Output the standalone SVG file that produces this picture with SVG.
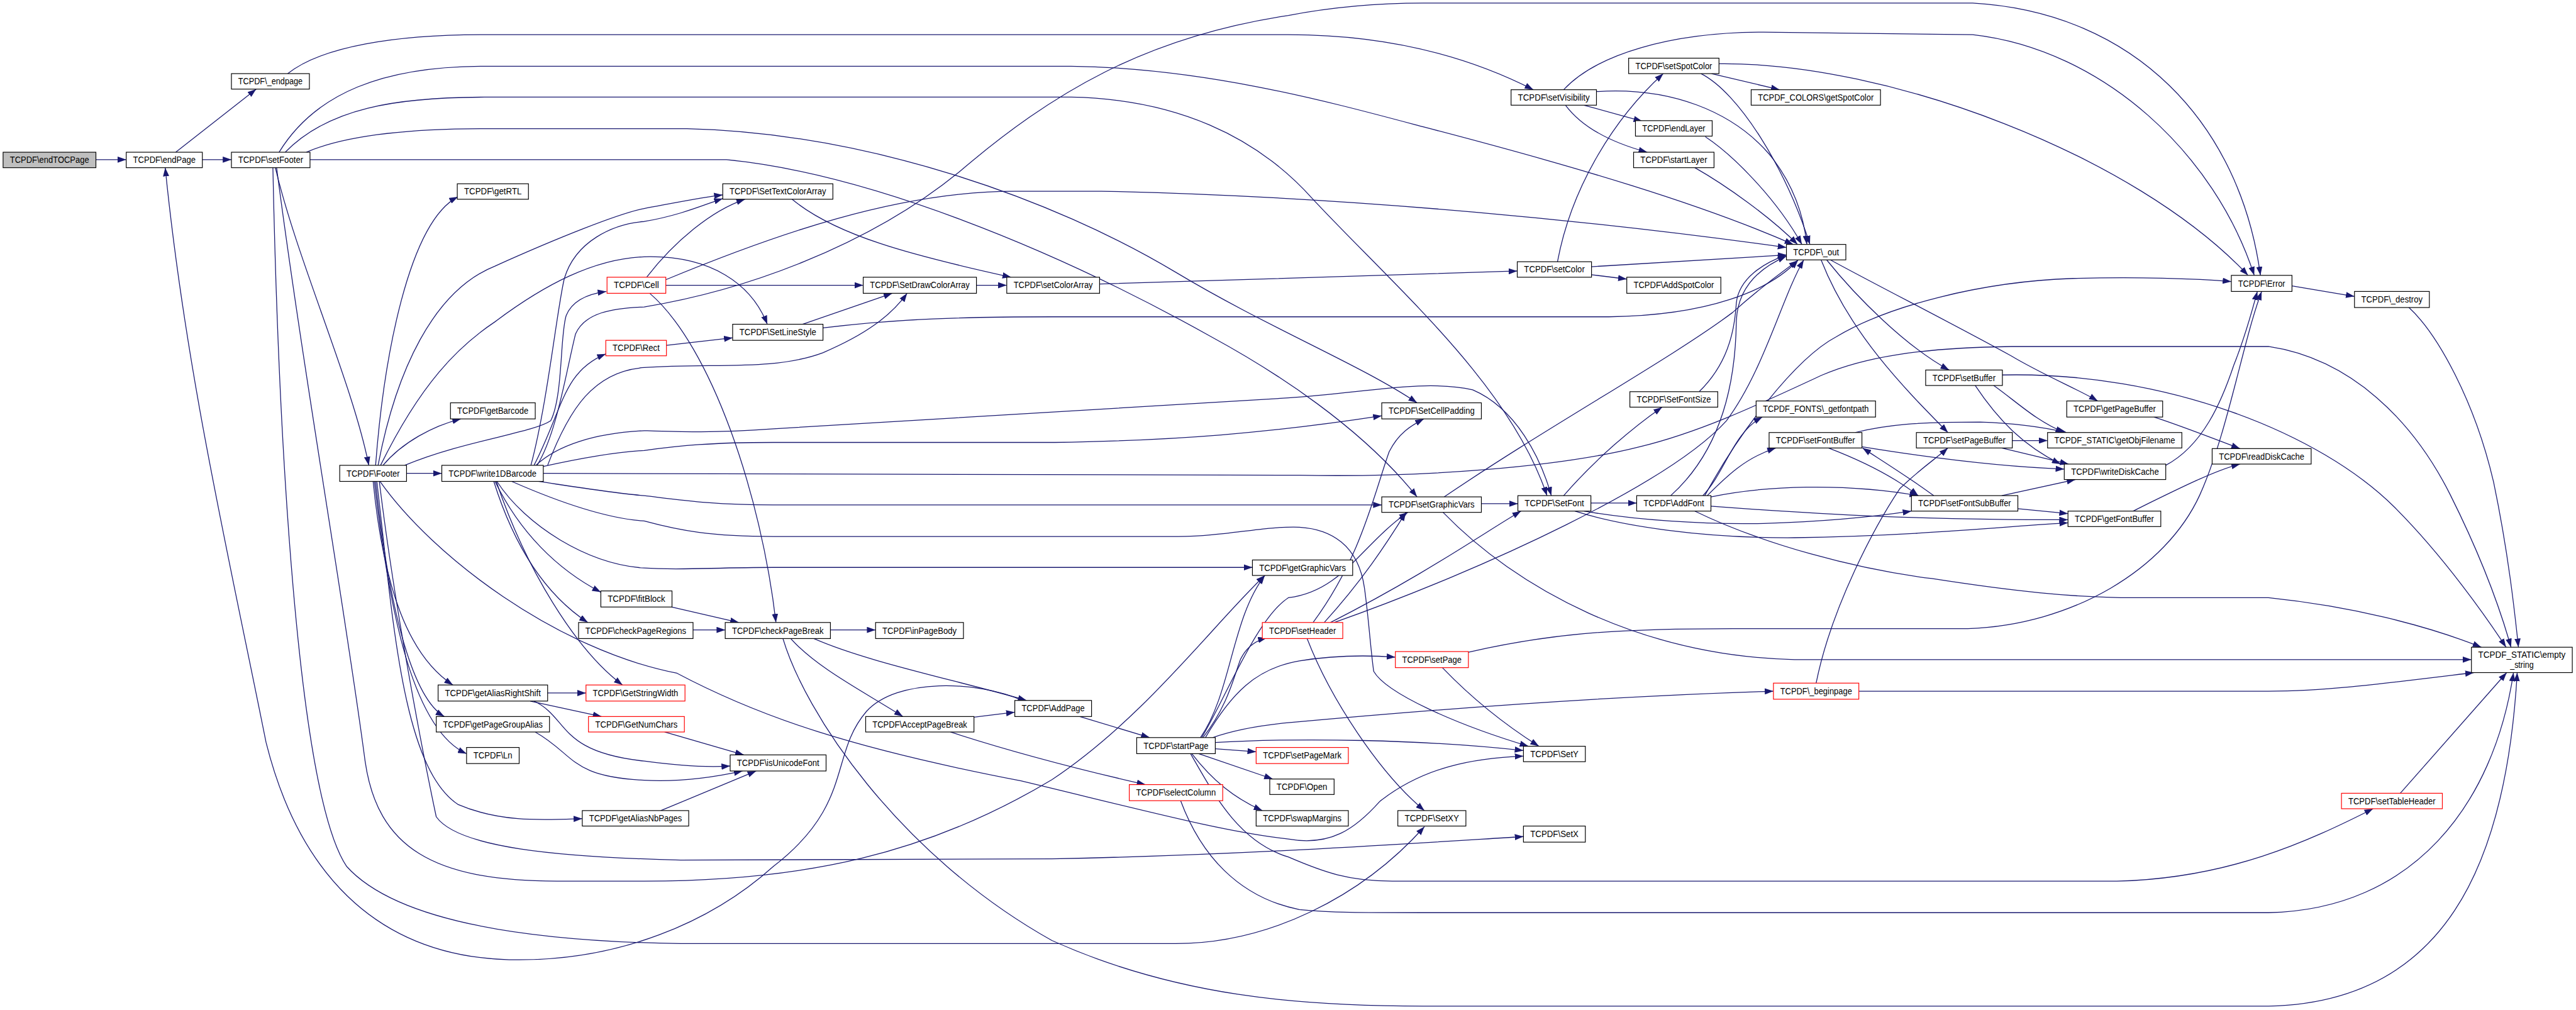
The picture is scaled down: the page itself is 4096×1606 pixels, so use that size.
<svg xmlns="http://www.w3.org/2000/svg" width="4096" height="1606" viewBox="0 0 4096 1606">
<style>
.n rect{fill:#fff;stroke:#000;stroke-width:1.2}
.n.r rect{stroke:#ff0000}
.n.root rect{fill:#bfbfbf}
.n text{font-family:"Liberation Sans",Arial,sans-serif;font-size:14.5px;text-anchor:middle;fill:#000}
.e path{fill:none;stroke:#191970;stroke-width:1.3;marker-end:url(#ah)}
</style>
<defs>
<marker id="ah" markerUnits="userSpaceOnUse" markerWidth="14" markerHeight="10" refX="14" refY="5" orient="auto" viewBox="0 0 14 10"><path d="M0,0L14,5L0,10z" fill="#191970"/></marker>
</defs>
<rect width="4096" height="1606" fill="#fff"/>
<g transform="scale(0.983906)">
<g id="edges" class="e">
<path d="M155,258 L204,258"/>
<path d="M284,246 L414,144"/>
<path d="M327,258 L374,258"/>
<path d="M465,119 C520,75 640,56 780,56 L2082,56 C2250,56 2380,95 2478,145"/>
<path d="M451,246 C510,150 620,107 783,107 L1731,107 C1950,110 2150,165 2300,205 C2550,270 2750,330 2898,395"/>
<path d="M461,246 C530,175 640,157 783,157 L1731,157 C1900,160 2030,220 2120,320 C2250,460 2440,620 2500,801"/>
<path d="M495,246 C560,218 660,208 783,208 L1110,208 C1400,215 1700,320 1900,440 C2050,530 2200,590 2290,651"/>
<path d="M501,258 L1174,258 C1400,280 1700,400 1957,544 C2060,600 2200,690 2290,803"/>
<path d="M445,271 C480,420 570,620 596,752"/>
<path d="M441,271 C450,700 480,1280 560,1400 C650,1500 900,1522 1100,1525 L1900,1525 C2050,1525 2200,1450 2302,1336"/>
<path d="M447,271 C490,600 560,1000 590,1230 C610,1370 700,1424 900,1424 L1041,1424 C1300,1424 1500,1380 1700,1260 C1850,1160 1960,1010 2044,930"/>
<path d="M1652,1132 C1580,1100 1450,1095 1400,1150 C1340,1220 1380,1300 1250,1400 C1150,1490 1000,1555 823,1551 C600,1545 480,1400 430,1200 C370,900 300,600 267,271"/>
<path d="M607,752 C620,580 660,360 740,318"/>
<path d="M611,752 C640,600 700,470 800,430 C900,385 1000,345 1041,337 C1100,326 1140,318 1168,315"/>
<path d="M615,752 C680,620 740,560 800,520 C880,460 960,418 1041,415 C1150,412 1215,460 1240,524"/>
<path d="M619,752 C650,715 700,688 745,677"/>
<path d="M654,752 C750,712 860,700 890,680 C910,640 905,540 915,510 C925,485 950,475 980,471"/>
<path d="M657,765 L714,765"/>
<path d="M605,778 C630,1000 670,1180 754,1218"/>
<path d="M603,778 C620,950 660,1060 732,1107"/>
<path d="M607,778 C630,1000 670,1130 718,1158"/>
<path d="M609,778 C635,1000 650,1240 740,1300 C810,1330 880,1325 941,1323"/>
<path d="M613,778 C640,1000 690,1250 705,1320 C740,1370 900,1385 1100,1390 L1700,1388 C2000,1382 2250,1365 2462,1352"/>
<path d="M614,778 C700,900 900,1050 1094,1088 C1230,1160 1380,1210 1650,1262 C1850,1310 1980,1345 2082,1356 C2150,1368 2190,1340 2230,1295 C2300,1240 2380,1225 2462,1222"/>
<path d="M868,752 C900,700 915,600 930,540 C945,505 990,498 1041,496 C1200,470 1400,400 1550,278 C1700,150 1850,60 2082,25 C2150,12 2220,5 2300,5 L3188,5 C3450,20 3620,200 3653,445"/>
<path d="M858,752 C885,650 900,500 912,450 C930,390 990,362 1041,358 C1100,348 1140,330 1168,321"/>
<path d="M863,752 C910,660 910,600 979,572"/>
<path d="M885,752 C920,660 960,600 1041,594 C1150,586 1250,600 1330,570 C1400,540 1440,510 1466,474"/>
<path d="M866,752 C900,720 960,700 1041,696 C1100,698 1150,700 1250,693 L2082,643 C2200,636 2300,612 2380,630 C2450,660 2490,740 2507,801"/>
<path d="M877,754 C950,738 1000,730 1041,728 C1100,720 1150,715 1250,715 L1705,715 C1900,712 2050,700 2233,672"/>
<path d="M878,765 L2100,768 C2300,772 2520,755 2650,722 C2750,698 2850,650 2945,606 C3010,578 3100,562 3250,560 L3666,560 C3800,580 3900,680 3960,800 C4020,920 4045,1000 4058,1046"/>
<path d="M870,778 C950,790 1000,798 1041,801 C1100,808 1150,816 1250,816 L2233,816"/>
<path d="M827,778 C900,810 980,838 1041,842 C1100,858 1150,867 1250,867 L1904,867 C1980,867 2040,850 2100,852 C2150,855 2195,880 2205,950 C2212,1000 2215,1050 2220,1085 C2240,1120 2350,1170 2470,1206"/>
<path d="M803,778 C850,850 950,912 1041,918 C1100,922 1150,917 1250,917 L2024,917"/>
<path d="M800,778 C840,860 900,920 971,957"/>
<path d="M798,778 C830,880 880,960 950,1006"/>
<path d="M802,778 C850,920 930,1050 1006,1107"/>
<path d="M1045,448 C1090,390 1150,340 1204,322"/>
<path d="M1076,461 L1395,461"/>
<path d="M1076,452 C1250,380 1450,309 1640,309 L1780,309 C2200,318 2600,360 2887,400"/>
<path d="M1050,474 C1150,560 1230,800 1254,1006"/>
<path d="M1077,558 L1184,546"/>
<path d="M1297,524 L1442,474"/>
<path d="M1330,530 C1450,515 1560,512 1700,512 L2600,512 C2760,510 2860,470 2906,420"/>
<path d="M1280,322 C1350,380 1470,412 1634,448"/>
<path d="M1578,461 L1627,461"/>
<path d="M1777,459 C2000,452 2250,445 2452,438"/>
<path d="M2572,431 L2887,412"/>
<path d="M2572,444 L2629,451"/>
<path d="M2517,423 C2540,300 2610,190 2688,119"/>
<path d="M2766,119 L2876,145"/>
<path d="M2749,119 C2810,150 2885,270 2925,395"/>
<path d="M2778,103 C3050,100 3450,250 3633,445"/>
<path d="M2527,145 C2580,88 2700,52 2850,52 L3188,56 C3400,80 3580,250 3643,445"/>
<path d="M2580,148 C2700,140 2800,180 2860,250 C2900,300 2915,350 2920,395"/>
<path d="M2560,170 L2654,196"/>
<path d="M2530,170 C2560,210 2610,232 2662,246"/>
<path d="M2756,221 C2800,250 2870,320 2912,395"/>
<path d="M2739,271 C2790,300 2860,350 2905,395"/>
<path d="M2952,420 C3000,480 3080,560 3150,598"/>
<path d="M2943,420 C2990,540 3080,630 3148,699"/>
<path d="M2958,420 C3050,470 3150,520 3250,575 C3300,605 3360,630 3390,648"/>
<path d="M2700,801 C2790,720 2805,600 2806,520 C2808,460 2850,430 2887,414"/>
<path d="M2746,633 C2790,590 2803,540 2806,490 C2810,450 2850,425 2887,412"/>
<path d="M2755,801 C2810,700 2900,580 2968,544 C3050,495 3200,455 3350,450 C3450,447 3550,450 3606,455"/>
<path d="M2571,813 L2645,813"/>
<path d="M2527,801 C2580,740 2640,690 2686,658"/>
<path d="M2560,826 C2640,840 2750,848 2850,846 C2950,843 3030,835 3089,826"/>
<path d="M2545,826 C2620,850 2750,870 2900,869 C3100,866 3250,850 3342,845"/>
<path d="M2752,801 C2790,760 2800,700 2848,674"/>
<path d="M2759,801 C2790,770 2820,740 2870,724"/>
<path d="M2765,803 C2850,785 2980,780 3100,801"/>
<path d="M2765,818 C2950,832 3100,840 3342,840"/>
<path d="M2739,826 C2850,880 3000,920 3122,935 C3250,955 3350,966 3450,966 L3666,966 C3800,980 3920,1010 4010,1046"/>
<path d="M2998,699 C3050,686 3100,682 3200,682 C3260,684 3310,692 3340,699"/>
<path d="M3009,722 C3150,745 3250,755 3336,758"/>
<path d="M3125,801 C3090,775 3050,750 3010,724"/>
<path d="M2955,724 C3010,745 3060,770 3100,801"/>
<path d="M3261,822 L3342,830"/>
<path d="M3235,801 L3354,775"/>
<path d="M3236,606 C3500,600 3750,700 3870,820 C3950,900 4020,1000 4050,1046"/>
<path d="M3222,623 C3260,650 3290,680 3336,699"/>
<path d="M3192,623 C3230,680 3270,720 3330,750"/>
<path d="M3252,712 L3309,712"/>
<path d="M3235,724 L3343,750"/>
<path d="M3481,674 C3530,690 3580,710 3620,725"/>
<path d="M3447,826 C3520,790 3580,760 3620,750"/>
<path d="M3500,752 C3560,720 3590,650 3610,590 C3630,540 3640,500 3648,471"/>
<path d="M2373,1054 C2500,1025 2600,1016 2800,1016 L3180,1016 C3350,1010 3500,920 3555,800 C3600,700 3625,550 3655,471"/>
<path d="M2331,1079 C2380,1130 2430,1170 2487,1206"/>
<path d="M2935,1104 C2960,980 3030,850 3070,790 C3100,760 3130,740 3148,724"/>
<path d="M3004,1117 L3666,1117 C3760,1117 3850,1105 3998,1087"/>
<path d="M3879,1282 L4051,1087"/>
<path d="M1924,1218 C1960,1280 2000,1360 2082,1385 C2140,1410 2180,1424 2250,1424 L3421,1424 C3600,1420 3730,1360 3835,1307"/>
<path d="M1908,1294 C1940,1380 2000,1450 2100,1470 C2150,1475 2200,1475 2300,1475 L3666,1475 C3900,1470 4030,1300 4062,1087"/>
<path d="M1265,1031 C1300,1150 1450,1380 1700,1520 C1900,1610 2100,1626 2300,1626 L3666,1626 C3950,1620 4050,1400 4068,1087"/>
<path d="M1342,1018 L1415,1018"/>
<path d="M1313,1031 C1400,1070 1550,1100 1659,1132"/>
<path d="M1277,1031 C1320,1080 1400,1120 1459,1158"/>
<path d="M1120,1018 L1172,1018"/>
<path d="M1085,981 L1194,1006"/>
<path d="M1574,1159 L1640,1151"/>
<path d="M1536,1183 C1650,1220 1750,1245 1851,1268"/>
<path d="M1745,1158 L1858,1192"/>
<path d="M1944,1192 C1985,1140 1995,1090 2005,1065 C2015,1045 2030,1035 2047,1031"/>
<path d="M1940,1192 C1990,1120 1990,1000 2044,930"/>
<path d="M1942,1192 C1980,1130 2030,1000 2082,966 C2170,955 2200,880 2275,828"/>
<path d="M1948,1192 C1990,1120 2030,1080 2100,1068 C2150,1060 2200,1058 2255,1062"/>
<path d="M1960,1192 C2000,1178 2040,1172 2082,1168 C2300,1148 2600,1125 2866,1117"/>
<path d="M1964,1200 C2100,1192 2300,1195 2462,1213"/>
<path d="M1964,1210 L2030,1215"/>
<path d="M1937,1218 L2057,1259"/>
<path d="M1926,1218 C1960,1262 1995,1290 2040,1310"/>
<path d="M885,1120 L947,1120"/>
<path d="M857,1133 L972,1158"/>
<path d="M863,1133 C920,1160 900,1215 1041,1230 C1100,1238 1150,1240 1180,1238"/>
<path d="M865,1183 C930,1220 920,1255 1041,1261 C1100,1264 1160,1255 1200,1246"/>
<path d="M1074,1183 L1202,1220"/>
<path d="M1068,1310 L1222,1246"/>
<path d="M2122,1006 C2200,900 2220,800 2245,730 C2260,700 2280,688 2301,677"/>
<path d="M2140,1006 C2200,940 2240,880 2272,828"/>
<path d="M2150,1006 C2300,930 2400,860 2458,826"/>
<path d="M2156,1006 C2400,920 2700,780 2790,680 C2850,600 2880,480 2915,420"/>
<path d="M2112,1031 C2150,1130 2230,1250 2302,1310"/>
<path d="M2394,814 L2453,814"/>
<path d="M2334,803 C2500,690 2700,580 2800,505 C2850,460 2880,440 2905,421"/>
<path d="M2332,828 C2450,950 2650,1060 2900,1066 L3994,1066"/>
<path d="M3704,462 L3805,479"/>
<path d="M3892,496 C3940,540 4000,650 4030,780 C4055,900 4065,1000 4070,1046"/>
</g>
<g id="n_endTOCPage" class="n root"><rect x="5" y="246" width="150" height="25"/><text x="80" y="263.5" textLength="128" lengthAdjust="spacingAndGlyphs">TCPDF\endTOCPage</text></g>
<g id="n_endPage" class="n"><rect x="204" y="246" width="123" height="25"/><text x="265.5" y="263.5" textLength="101" lengthAdjust="spacingAndGlyphs">TCPDF\endPage</text></g>
<g id="n__endpage" class="n"><rect x="374" y="119" width="126" height="25"/><text x="437" y="136.5" textLength="104" lengthAdjust="spacingAndGlyphs">TCPDF\_endpage</text></g>
<g id="n_setFooter" class="n"><rect x="374" y="246" width="127" height="25"/><text x="437.5" y="263.5" textLength="105" lengthAdjust="spacingAndGlyphs">TCPDF\setFooter</text></g>
<g id="n_getRTL" class="n"><rect x="739" y="297" width="115" height="25"/><text x="796.5" y="314.5" textLength="93" lengthAdjust="spacingAndGlyphs">TCPDF\getRTL</text></g>
<g id="n_SetTextColorArray" class="n"><rect x="1168" y="297" width="178" height="25"/><text x="1257" y="314.5" textLength="156" lengthAdjust="spacingAndGlyphs">TCPDF\SetTextColorArray</text></g>
<g id="n_Cell" class="n r"><rect x="981" y="448" width="95" height="26"/><text x="1028.5" y="466" textLength="73" lengthAdjust="spacingAndGlyphs">TCPDF\Cell</text></g>
<g id="n_SetDrawColorArray" class="n"><rect x="1395" y="448" width="183" height="26"/><text x="1486.5" y="466" textLength="161" lengthAdjust="spacingAndGlyphs">TCPDF\SetDrawColorArray</text></g>
<g id="n_setColorArray" class="n"><rect x="1627" y="448" width="150" height="26"/><text x="1702" y="466" textLength="128" lengthAdjust="spacingAndGlyphs">TCPDF\setColorArray</text></g>
<g id="n_Rect" class="n r"><rect x="979" y="550" width="98" height="25"/><text x="1028" y="567.5" textLength="76" lengthAdjust="spacingAndGlyphs">TCPDF\Rect</text></g>
<g id="n_SetLineStyle" class="n"><rect x="1184" y="524" width="146" height="26"/><text x="1257" y="542" textLength="124" lengthAdjust="spacingAndGlyphs">TCPDF\SetLineStyle</text></g>
<g id="n_getBarcode" class="n"><rect x="728" y="651" width="137" height="26"/><text x="796.5" y="669" textLength="115" lengthAdjust="spacingAndGlyphs">TCPDF\getBarcode</text></g>
<g id="n_Footer" class="n"><rect x="549" y="752" width="108" height="26"/><text x="603" y="770" textLength="86" lengthAdjust="spacingAndGlyphs">TCPDF\Footer</text></g>
<g id="n_write1DBarcode" class="n"><rect x="714" y="752" width="164" height="26"/><text x="796" y="770" textLength="142" lengthAdjust="spacingAndGlyphs">TCPDF\write1DBarcode</text></g>
<g id="n_fitBlock" class="n"><rect x="971" y="955" width="115" height="26"/><text x="1028.5" y="973" textLength="93" lengthAdjust="spacingAndGlyphs">TCPDF\fitBlock</text></g>
<g id="n_checkPageRegions" class="n"><rect x="935" y="1006" width="185" height="26"/><text x="1027.5" y="1024" textLength="163" lengthAdjust="spacingAndGlyphs">TCPDF\checkPageRegions</text></g>
<g id="n_checkPageBreak" class="n"><rect x="1172" y="1006" width="170" height="26"/><text x="1257" y="1024" textLength="148" lengthAdjust="spacingAndGlyphs">TCPDF\checkPageBreak</text></g>
<g id="n_inPageBody" class="n"><rect x="1415" y="1006" width="142" height="26"/><text x="1486" y="1024" textLength="120" lengthAdjust="spacingAndGlyphs">TCPDF\inPageBody</text></g>
<g id="n_getAliasRightShift" class="n"><rect x="708" y="1107" width="177" height="26"/><text x="796.5" y="1125" textLength="155" lengthAdjust="spacingAndGlyphs">TCPDF\getAliasRightShift</text></g>
<g id="n_GetStringWidth" class="n r"><rect x="947" y="1107" width="160" height="26"/><text x="1027" y="1125" textLength="138" lengthAdjust="spacingAndGlyphs">TCPDF\GetStringWidth</text></g>
<g id="n_getPageGroupAlias" class="n"><rect x="705" y="1158" width="183" height="25"/><text x="796.5" y="1175.5" textLength="161" lengthAdjust="spacingAndGlyphs">TCPDF\getPageGroupAlias</text></g>
<g id="n_GetNumChars" class="n r"><rect x="951" y="1158" width="155" height="25"/><text x="1028.5" y="1175.5" textLength="133" lengthAdjust="spacingAndGlyphs">TCPDF\GetNumChars</text></g>
<g id="n_Ln" class="n"><rect x="754" y="1208" width="85" height="26"/><text x="796.5" y="1226" textLength="63" lengthAdjust="spacingAndGlyphs">TCPDF\Ln</text></g>
<g id="n_getAliasNbPages" class="n"><rect x="941" y="1310" width="172" height="25"/><text x="1027" y="1327.5" textLength="150" lengthAdjust="spacingAndGlyphs">TCPDF\getAliasNbPages</text></g>
<g id="n_isUnicodeFont" class="n"><rect x="1180" y="1220" width="155" height="26"/><text x="1257.5" y="1238" textLength="133" lengthAdjust="spacingAndGlyphs">TCPDF\isUnicodeFont</text></g>
<g id="n_AcceptPageBreak" class="n"><rect x="1399" y="1158" width="175" height="25"/><text x="1486.5" y="1175.5" textLength="153" lengthAdjust="spacingAndGlyphs">TCPDF\AcceptPageBreak</text></g>
<g id="n_AddPage" class="n"><rect x="1640" y="1132" width="124" height="26"/><text x="1702" y="1150" textLength="102" lengthAdjust="spacingAndGlyphs">TCPDF\AddPage</text></g>
<g id="n_startPage" class="n"><rect x="1837" y="1192" width="127" height="26"/><text x="1900.5" y="1210" textLength="105" lengthAdjust="spacingAndGlyphs">TCPDF\startPage</text></g>
<g id="n_selectColumn" class="n r"><rect x="1825" y="1268" width="151" height="26"/><text x="1900.5" y="1286" textLength="129" lengthAdjust="spacingAndGlyphs">TCPDF\selectColumn</text></g>
<g id="n_getGraphicVars" class="n"><rect x="2024" y="905" width="162" height="25"/><text x="2105" y="922.5" textLength="140" lengthAdjust="spacingAndGlyphs">TCPDF\getGraphicVars</text></g>
<g id="n_setHeader" class="n r"><rect x="2040" y="1006" width="130" height="26"/><text x="2105" y="1024" textLength="108" lengthAdjust="spacingAndGlyphs">TCPDF\setHeader</text></g>
<g id="n_setPage" class="n r"><rect x="2255" y="1053" width="118" height="26"/><text x="2314" y="1071" textLength="96" lengthAdjust="spacingAndGlyphs">TCPDF\setPage</text></g>
<g id="n_setPageMark" class="n r"><rect x="2030" y="1208" width="149" height="26"/><text x="2104.5" y="1226" textLength="127" lengthAdjust="spacingAndGlyphs">TCPDF\setPageMark</text></g>
<g id="n_Open" class="n"><rect x="2052" y="1259" width="104" height="25"/><text x="2104" y="1276.5" textLength="82" lengthAdjust="spacingAndGlyphs">TCPDF\Open</text></g>
<g id="n_swapMargins" class="n"><rect x="2030" y="1310" width="149" height="25"/><text x="2104.5" y="1327.5" textLength="127" lengthAdjust="spacingAndGlyphs">TCPDF\swapMargins</text></g>
<g id="n_SetXY" class="n"><rect x="2259" y="1310" width="110" height="25"/><text x="2314" y="1327.5" textLength="88" lengthAdjust="spacingAndGlyphs">TCPDF\SetXY</text></g>
<g id="n_SetY" class="n"><rect x="2462" y="1206" width="100" height="25"/><text x="2512" y="1223.5" textLength="78" lengthAdjust="spacingAndGlyphs">TCPDF\SetY</text></g>
<g id="n_SetX" class="n"><rect x="2462" y="1335" width="100" height="26"/><text x="2512" y="1353" textLength="78" lengthAdjust="spacingAndGlyphs">TCPDF\SetX</text></g>
<g id="n_SetCellPadding" class="n"><rect x="2233" y="651" width="161" height="26"/><text x="2313.5" y="669" textLength="139" lengthAdjust="spacingAndGlyphs">TCPDF\SetCellPadding</text></g>
<g id="n_setGraphicVars" class="n"><rect x="2233" y="803" width="161" height="25"/><text x="2313.5" y="820.5" textLength="139" lengthAdjust="spacingAndGlyphs">TCPDF\setGraphicVars</text></g>
<g id="n_SetFont" class="n"><rect x="2453" y="801" width="118" height="25"/><text x="2512" y="818.5" textLength="96" lengthAdjust="spacingAndGlyphs">TCPDF\SetFont</text></g>
<g id="n_AddFont" class="n"><rect x="2645" y="801" width="120" height="25"/><text x="2705" y="818.5" textLength="98" lengthAdjust="spacingAndGlyphs">TCPDF\AddFont</text></g>
<g id="n_SetFontSize" class="n"><rect x="2634" y="633" width="142" height="25"/><text x="2705" y="650.5" textLength="120" lengthAdjust="spacingAndGlyphs">TCPDF\SetFontSize</text></g>
<g id="n_setVisibility" class="n"><rect x="2442" y="145" width="138" height="25"/><text x="2511" y="162.5" textLength="116" lengthAdjust="spacingAndGlyphs">TCPDF\setVisibility</text></g>
<g id="n_setSpotColor" class="n"><rect x="2632" y="94" width="146" height="25"/><text x="2705" y="111.5" textLength="124" lengthAdjust="spacingAndGlyphs">TCPDF\setSpotColor</text></g>
<g id="n_getSpotColor" class="n"><rect x="2830" y="145" width="209" height="25"/><text x="2934.5" y="162.5" textLength="187" lengthAdjust="spacingAndGlyphs">TCPDF_COLORS\getSpotColor</text></g>
<g id="n_endLayer" class="n"><rect x="2643" y="195" width="124" height="25"/><text x="2705" y="212.5" textLength="102" lengthAdjust="spacingAndGlyphs">TCPDF\endLayer</text></g>
<g id="n_startLayer" class="n"><rect x="2640" y="246" width="130" height="25"/><text x="2705" y="263.5" textLength="108" lengthAdjust="spacingAndGlyphs">TCPDF\startLayer</text></g>
<g id="n__out" class="n"><rect x="2887" y="395" width="96" height="25"/><text x="2935" y="412.5" textLength="74" lengthAdjust="spacingAndGlyphs">TCPDF\_out</text></g>
<g id="n_setColor" class="n"><rect x="2452" y="423" width="120" height="25"/><text x="2512" y="440.5" textLength="98" lengthAdjust="spacingAndGlyphs">TCPDF\setColor</text></g>
<g id="n_AddSpotColor" class="n"><rect x="2629" y="448" width="152" height="26"/><text x="2705" y="466" textLength="130" lengthAdjust="spacingAndGlyphs">TCPDF\AddSpotColor</text></g>
<g id="n__getfontpath" class="n"><rect x="2838" y="648" width="193" height="26"/><text x="2934.5" y="666" textLength="171" lengthAdjust="spacingAndGlyphs">TCPDF_FONTS\_getfontpath</text></g>
<g id="n_setFontBuffer" class="n"><rect x="2859" y="699" width="150" height="25"/><text x="2934" y="716.5" textLength="128" lengthAdjust="spacingAndGlyphs">TCPDF\setFontBuffer</text></g>
<g id="n_setPageBuffer" class="n"><rect x="3097" y="699" width="155" height="25"/><text x="3174.5" y="716.5" textLength="133" lengthAdjust="spacingAndGlyphs">TCPDF\setPageBuffer</text></g>
<g id="n_setFontSubBuffer" class="n"><rect x="3089" y="801" width="172" height="25"/><text x="3175" y="818.5" textLength="150" lengthAdjust="spacingAndGlyphs">TCPDF\setFontSubBuffer</text></g>
<g id="n_setBuffer" class="n"><rect x="3112" y="598" width="124" height="25"/><text x="3174" y="615.5" textLength="102" lengthAdjust="spacingAndGlyphs">TCPDF\setBuffer</text></g>
<g id="n_getPageBuffer" class="n"><rect x="3340" y="648" width="155" height="26"/><text x="3417.5" y="666" textLength="133" lengthAdjust="spacingAndGlyphs">TCPDF\getPageBuffer</text></g>
<g id="n_getObjFilename" class="n"><rect x="3309" y="699" width="217" height="25"/><text x="3417.5" y="716.5" textLength="195" lengthAdjust="spacingAndGlyphs">TCPDF_STATIC\getObjFilename</text></g>
<g id="n_writeDiskCache" class="n"><rect x="3336" y="750" width="164" height="25"/><text x="3418" y="767.5" textLength="142" lengthAdjust="spacingAndGlyphs">TCPDF\writeDiskCache</text></g>
<g id="n_getFontBuffer" class="n"><rect x="3342" y="826" width="150" height="25"/><text x="3417" y="843.5" textLength="128" lengthAdjust="spacingAndGlyphs">TCPDF\getFontBuffer</text></g>
<g id="n_readDiskCache" class="n"><rect x="3575" y="725" width="160" height="25"/><text x="3655" y="742.5" textLength="138" lengthAdjust="spacingAndGlyphs">TCPDF\readDiskCache</text></g>
<g id="n_Error" class="n"><rect x="3606" y="445" width="98" height="26"/><text x="3655" y="463" textLength="76" lengthAdjust="spacingAndGlyphs">TCPDF\Error</text></g>
<g id="n__destroy" class="n"><rect x="3805" y="471" width="121" height="26"/><text x="3865.5" y="489" textLength="99" lengthAdjust="spacingAndGlyphs">TCPDF\_destroy</text></g>
<g id="n_empty_string" class="n"><rect x="3994" y="1046" width="163" height="41"/><text x="4075.5" y="1063" textLength="141" lengthAdjust="spacingAndGlyphs">TCPDF_STATIC\empty</text><text x="4075.5" y="1079" textLength="38" lengthAdjust="spacingAndGlyphs">_string</text></g>
<g id="n__beginpage" class="n r"><rect x="2866" y="1104" width="138" height="26"/><text x="2935" y="1122" textLength="116" lengthAdjust="spacingAndGlyphs">TCPDF\_beginpage</text></g>
<g id="n_setTableHeader" class="n r"><rect x="3784" y="1282" width="163" height="25"/><text x="3865.5" y="1299.5" textLength="141" lengthAdjust="spacingAndGlyphs">TCPDF\setTableHeader</text></g>
</g>
</svg>
